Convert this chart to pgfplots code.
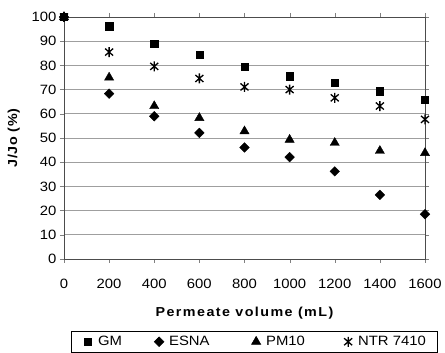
\documentclass[border=0pt]{standalone}
\usepackage{fontspec}
\setmainfont{Liberation Sans}[FakeStretch=1.1]
\usepackage{pgfplots}
\pgfplotsset{compat=1.18}
\usetikzlibrary{calc}
\pgfdeclareplotmark{xstar}{%
  \pgfpathmoveto{\pgfqpoint{0pt}{\pgfplotmarksize}}%
  \pgfpathlineto{\pgfqpoint{0pt}{-\pgfplotmarksize}}%
  \pgfpathmoveto{\pgfqpoint{-.8\pgfplotmarksize}{.7\pgfplotmarksize}}%
  \pgfpathlineto{\pgfqpoint{.8\pgfplotmarksize}{-.7\pgfplotmarksize}}%
  \pgfpathmoveto{\pgfqpoint{.8\pgfplotmarksize}{.7\pgfplotmarksize}}%
  \pgfpathlineto{\pgfqpoint{-.8\pgfplotmarksize}{-.7\pgfplotmarksize}}%
  \pgfusepathqstroke}
\pgfplotsset{lim/.style={legend image code/.code={\path[draw=none,fill=none] (0pt,-1pt) rectangle (16pt,1pt); \draw[##1, only marks] plot coordinates {(8pt,0pt)};}}}
\begin{document}
\begin{tikzpicture}
\begin{axis}[
  scale only axis, width=361pt, height=242pt,
  xmin=0, xmax=1600, ymin=0, ymax=100,
  xtick={0,200,...,1600}, ytick={0,10,...,100},
  /pgf/number format/assume math mode=true,
  /pgf/number format/1000 sep={},
  tick label style={font=\fontsize{13.5}{15}\selectfont},
  xticklabel style={yshift=-21pt, anchor=center},
  tick align=outside, major tick length=4pt,
  ymajorgrids, grid style={gray!75, line width=0.6pt},
  axis line style={black!70, line width=0.6pt},
  xlabel={\addfontfeature{LetterSpace=11}Permeate volume (mL)},
  ylabel={\addfontfeature{LetterSpace=5}J/Jo (\%)},
  label style={font=\fontsize{13}{15}\selectfont\bfseries},
  xlabel style={at={(axis description cs:0.5,-0.222)}, anchor=center},
  ylabel style={at={(axis description cs:-0.139,0.5)}, anchor=center},
  clip=false,
  legend columns=4,
  legend style={at={(axis description cs:0.019,-0.2975)}, anchor=north west,
    draw=black, line width=0.6pt, font=\fontsize{13.5}{15}\selectfont,
    inner ysep=3pt, inner xsep=9pt},
  legend cell align=left,
]
\addplot[only marks, lim, mark=square*, mark size=3.6pt, black] coordinates {
(0,100) (200,96.2) (400,89.1) (600,84.4) (800,79.6) (1000,75.5) (1200,72.8) (1400,69.3) (1600,65.7)};
\addlegendentry{\makebox[51pt][l]{GM}}
\addplot[only marks, lim, mark=square*, mark size=3.4pt, mark options={rotate=45}, black] coordinates {
(0,100) (200,68.3) (400,59.0) (600,52.1) (800,46.1) (1000,42.1) (1200,36.2) (1400,26.5) (1600,18.5)};
\addlegendentry{\makebox[77pt][l]{ESNA}}
\addplot[only marks, lim, mark=triangle*, mark size=5.3pt, black] coordinates {
(0,100) (200,75.0) (400,63.2) (600,58.3) (800,52.8) (1000,49.3) (1200,48.0) (1400,44.7) (1600,43.8)};
\addlegendentry{\makebox[72pt][l]{PM10}}
\addplot[only marks, lim, mark=xstar, mark size=5pt, black, line width=1.3pt] coordinates {
(0,100) (200,85.5) (400,79.6) (600,74.6) (800,71.1) (1000,70.0) (1200,66.6) (1400,63.2) (1600,57.7)};
\addlegendentry{NTR 7410}
\end{axis}
\useasboundingbox ($(current axis.south west)+(-64pt,-91pt)$) rectangle ($(current axis.north east)+(20pt,17pt)$);
\end{tikzpicture}
\end{document}
